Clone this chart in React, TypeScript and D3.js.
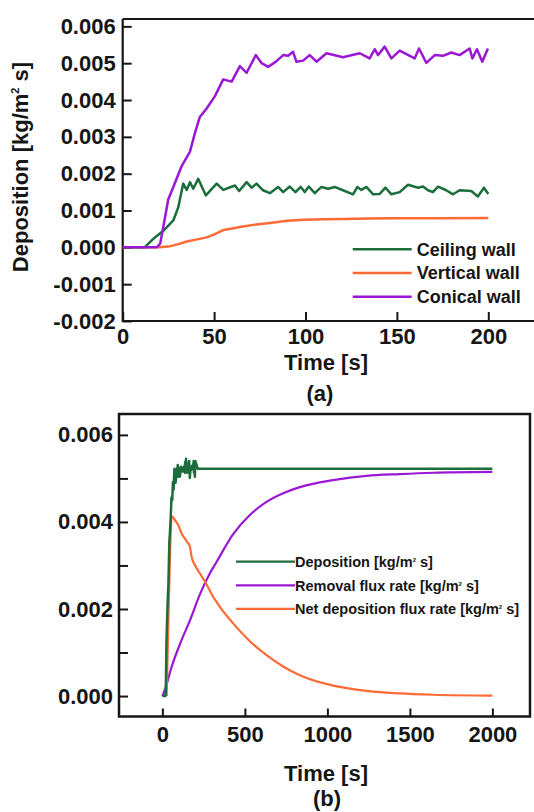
import * as d3 from "d3";
import { useEffect, useRef } from "react";

type Pt = [number, number];

// (a) deposition on the three walls, time [s] vs kg/m2 s
const ceilingWall: Pt[] = [
  [0, 0], [12, 0], [16.7, 0.00023], [22.2, 0.00045], [27.7, 0.00073], [30.4, 0.00109],
  [33.1, 0.00173], [35, 0.00156], [36.8, 0.00177], [38.6, 0.00159], [41.3, 0.00186],
  [45.5, 0.00141], [51.4, 0.00173], [55, 0.00156], [61.4, 0.00168], [63.7, 0.00153],
  [67.8, 0.00177], [70.5, 0.00162], [73.2, 0.00173], [76.8, 0.00155], [80.5, 0.00147],
  [85, 0.00164], [87.8, 0.0015], [91.4, 0.00165], [94.5, 0.0015], [97.4, 0.00164],
  [99.6, 0.0015], [101.8, 0.00165], [105.1, 0.00147], [108.7, 0.00164], [112.4, 0.00159],
  [116, 0.00164], [120.5, 0.00155], [126, 0.00144], [128.4, 0.00164], [130.6, 0.00156],
  [133.3, 0.00164], [137, 0.00144], [140.6, 0.00145], [143.7, 0.00162], [147, 0.00144],
  [151.5, 0.0015], [156.1, 0.0017], [161.5, 0.00162], [164.3, 0.00165], [167, 0.00155],
  [169.7, 0.0015], [172.5, 0.00165], [177, 0.00155], [180.7, 0.00144], [184.3, 0.00155],
  [190.7, 0.00153], [194.3, 0.00138], [197.6, 0.00162], [200, 0.00145],
];

const verticalWall: Pt[] = [
  [0, 0], [20, 0], [25, 0.00002], [30, 0.00008], [35, 0.00016], [40, 0.00021],
  [45.9, 0.00027], [49.5, 0.00034], [55, 0.00047], [60, 0.00051], [64, 0.00055],
  [71.4, 0.00061], [80.5, 0.00066], [90, 0.00072], [99.6, 0.00075], [110, 0.00076],
  [120.5, 0.00077], [135, 0.00078], [148, 0.00079], [175, 0.00079], [200, 0.0008],
];

const conicalWall: Pt[] = [
  [0, 0], [18.6, 0], [20.5, 0.0001], [22.2, 0.00055], [24.9, 0.0013], [27.7, 0.00164],
  [32.2, 0.0022], [36.8, 0.0026], [39.5, 0.0031], [42.2, 0.00354], [45.9, 0.00377],
  [50.4, 0.0041], [55, 0.00456], [59.6, 0.0045], [64.1, 0.00492], [67.8, 0.00474],
  [72.8, 0.00522], [76, 0.005], [79.6, 0.0049], [84, 0.00505], [87.8, 0.00522],
  [90.5, 0.0052], [93.2, 0.00531], [95, 0.00504], [98.7, 0.00507], [102.3, 0.00522],
  [106, 0.00504], [111.5, 0.00527], [120.5, 0.00516], [129.7, 0.00527], [135.1, 0.00513],
  [137.9, 0.00538], [139.7, 0.00522], [143.3, 0.00545], [147, 0.00513], [151.5, 0.00534],
  [159.7, 0.00513], [162.1, 0.0054], [166.1, 0.00501], [170.7, 0.00522], [175.2, 0.0052],
  [179.8, 0.00529], [184.3, 0.00522], [189.8, 0.0054], [191.3, 0.00513], [193.8, 0.00538],
  [196.7, 0.00504], [199.8, 0.0054],
];

// (b) long run to 2000 s
const depositionTail: Pt[] = [[215, 0.00522], [2000, 0.00522]];

const removalFlux: Pt[] = [
  [0, 0], [20, 0.0002], [56, 0.00067], [107, 0.0012], [167, 0.00174], [228, 0.00234],
  [288, 0.00282], [328, 0.00308], [429, 0.00372], [530, 0.00416], [631, 0.00446],
  [732, 0.00466], [833, 0.0048], [1035, 0.00496], [1237, 0.00506], [1439, 0.0051],
  [1641, 0.00513], [2000, 0.00515],
];

const netDepositionFlux: Pt[] = [
  [26, 0], [61.8, 0.00412], [75.7, 0.00404], [96, 0.00393], [116, 0.00374], [136, 0.00362],
  [150, 0.00354], [167, 0.00343], [177, 0.0032], [197, 0.00301], [227, 0.00282],
  [264, 0.00259], [308, 0.00228], [348, 0.00205], [429, 0.00167], [530, 0.00126],
  [631, 0.00094], [732, 0.00068], [833, 0.00048], [1035, 0.00024], [1237, 0.00012],
  [1439, 0.00006], [1641, 0.00003], [2000, 0.00001],
];

const topXTicks = [0, 50, 100, 150, 200];
const topYTicks = [-2, -1, 0, 1, 2, 3, 4, 5, 6].map(d => d / 1000);
const bottomXTicks = [0, 500, 1000, 1500, 2000];
const bottomYTicks = [0, 1, 2, 3, 4, 5, 6].map(d => d / 1000);

const topLegend = ["Ceiling wall", "Vertical wall", "Conical wall"];
const bottomLegend = ["Deposition [kg/m", "Removal flux rate [kg/m", "Net deposition flux rate [kg/m"];

const GREEN = "#1b6d3b";
const ORANGE = "#ff6a35";
const PURPLE = "#9b17d6";
const INK = "#161616";
const FONT = "'Liberation Sans', Arial, sans-serif";

const fmt = (v: number) => v.toFixed(3);

const App = () => {
  const chartRef = useRef<SVGSVGElement>(null);

  useEffect(() => {
    const svg = d3.select(chartRef.current);
    svg.selectAll("*").remove();

    const styleAxis = (g: any, size: number) => {
      g.select(".domain").remove();
      g.selectAll(".tick line").attr("stroke", INK).attr("stroke-width", 2);
      g.selectAll(".tick text")
        .attr("fill", INK)
        .style("font-family", FONT)
        .style("font-weight", "bold")
        .style("font-size", `${size}px`);
    };

    // ---------- (a) ----------
    const xA = d3.scaleLinear().domain([0, 225]).range([122.7, 534]);
    const yA = d3.scaleLinear().domain([-0.002, 0.0062]).range([321, 19]);

    const gA = svg.append("g");

    const xAxisA = gA.append("g")
      .attr("transform", `translate(0,${yA.range()[0]})`)
      .call(d3.axisBottom(xA).tickValues(topXTicks).tickSize(-9).tickSizeOuter(0).tickPadding(7).tickFormat(d3.format("d")));
    styleAxis(xAxisA, 22);

    const yAxisA = gA.append("g")
      .attr("transform", `translate(${xA(0)},0)`)
      .call(d3.axisLeft(yA).tickValues(topYTicks).tickSize(-9).tickSizeOuter(0).tickPadding(7).tickFormat(d => fmt(+d)));
    styleAxis(yAxisA, 22);

    // frame lines: left, bottom, top
    gA.append("path")
      .attr("d", `M${xA(0)},${yA.range()[1]}V${yA.range()[0]}H534M${xA(0)},${yA.range()[1]}H534`)
      .attr("fill", "none").attr("stroke", INK).attr("stroke-width", 2.2);

    const lineA = d3.line<Pt>().x(d => xA(d[0])).y(d => yA(d[1]));
    const seriesA: [Pt[], string][] = [[verticalWall, ORANGE], [ceilingWall, GREEN], [conicalWall, PURPLE]];
    seriesA.forEach(([data, color]) => {
      gA.append("path").attr("d", lineA(data)).attr("fill", "none")
        .attr("stroke", color).attr("stroke-width", 2.5).attr("stroke-linejoin", "round");
    });

    const legA = gA.append("g").attr("transform", "translate(352.7,249.3)");
    [GREEN, ORANGE, PURPLE].forEach((c, i) => {
      legA.append("line").attr("x1", 0).attr("x2", 59).attr("y1", i * 23.7).attr("y2", i * 23.7)
        .attr("stroke", c).attr("stroke-width", 2.5);
      legA.append("text").attr("x", 64).attr("y", i * 23.7).attr("dy", "0.36em")
        .attr("fill", INK).style("font-family", FONT).style("font-weight", "bold").style("font-size", "18px")
        .text(topLegend[i]);
    });

    const yLab = gA.append("text")
      .attr("transform", "translate(28,167) rotate(-90)")
      .attr("text-anchor", "middle").attr("fill", INK)
      .style("font-family", FONT).style("font-weight", "bold").style("font-size", "22px");
    yLab.append("tspan").text("Deposition [kg/m");
    yLab.append("tspan").attr("dy", -9).style("font-size", "11px").text("2");
    yLab.append("tspan").attr("dy", 9).text(" s]");

    gA.append("text").attr("x", 326).attr("y", 369.5).attr("text-anchor", "middle").attr("fill", INK)
      .style("font-family", FONT).style("font-weight", "bold").style("font-size", "22px").text("Time [s]");
    gA.append("text").attr("x", 320).attr("y", 400.5).attr("text-anchor", "middle").attr("fill", INK)
      .style("font-family", FONT).style("font-weight", "bold").style("font-size", "22px").text("(a)");

    // ---------- (b) ----------
    const xB = d3.scaleLinear().domain([-263, 2228]).range([119, 530]);
    const yB = d3.scaleLinear().domain([-0.00047, 0.00648]).range([716.5, 414]);

    const gB = svg.append("g");

    const xAxisB = gB.append("g")
      .attr("transform", `translate(0,${yB.range()[0]})`)
      .call(d3.axisBottom(xB).tickValues(bottomXTicks).tickSize(-8).tickSizeOuter(0).tickPadding(10).tickFormat(d3.format("d")));
    styleAxis(xAxisB, 22);

    const yAxisB = gB.append("g")
      .attr("transform", `translate(${xB.range()[0]},0)`)
      .call(d3.axisLeft(yB).tickValues(bottomYTicks).tickSize(-9).tickSizeOuter(0).tickPadding(6)
        .tickFormat(d => (Math.round(+d * 1000) % 2 === 0 ? fmt(+d) : "")));
    styleAxis(yAxisB, 22);

    gB.append("rect")
      .attr("x", xB.range()[0]).attr("y", yB.range()[1])
      .attr("width", xB.range()[1] - xB.range()[0]).attr("height", yB.range()[0] - yB.range()[1])
      .attr("fill", "none").attr("stroke", INK).attr("stroke-width", 2.5);

    const lineB = d3.line<Pt>().x(d => xB(d[0])).y(d => yB(d[1]));
    const smoothB = d3.line<Pt>().x(d => xB(d[0])).y(d => yB(d[1])).curve(d3.curveMonotoneX);

    gB.append("path").attr("d", smoothB(removalFlux)).attr("fill", "none")
      .attr("stroke", PURPLE).attr("stroke-width", 2.2);
    gB.append("path").attr("d", smoothB(netDepositionFlux)).attr("fill", "none")
      .attr("stroke", ORANGE).attr("stroke-width", 2.2).attr("stroke-linejoin", "round");
    gB.append("path").attr("d", lineB([...conicalWall, ...depositionTail])).attr("fill", "none")
      .attr("stroke", GREEN).attr("stroke-width", 2.5).attr("stroke-linejoin", "round");

    const legB = gB.append("g").attr("transform", "translate(236,561.7)");
    [GREEN, PURPLE, ORANGE].forEach((c, i) => {
      legB.append("line").attr("x1", 0).attr("x2", 59).attr("y1", i * 23.6).attr("y2", i * 23.6)
        .attr("stroke", c).attr("stroke-width", 2.2);
      const t = legB.append("text").attr("x", 59).attr("y", i * 23.6).attr("dy", "0.36em")
        .attr("fill", INK).style("font-family", FONT).style("font-weight", "bold").style("font-size", "14.5px");
      t.append("tspan").text(bottomLegend[i]);
      t.append("tspan").attr("dy", -5).style("font-size", "6px").text("2");
      t.append("tspan").attr("dy", 5).text(" s]");
    });

    gB.append("text").attr("x", 326).attr("y", 781).attr("text-anchor", "middle").attr("fill", INK)
      .style("font-family", FONT).style("font-weight", "bold").style("font-size", "22px").text("Time [s]");
    gB.append("text").attr("x", 327).attr("y", 806).attr("text-anchor", "middle").attr("fill", INK)
      .style("font-family", FONT).style("font-weight", "bold").style("font-size", "22px").text("(b)");
  }, []);

  return (
    <svg ref={chartRef} width={534} height={812}
      style={{ position: "absolute", left: 0, top: 0, background: "#fff" }} />
  );
};

export default App;
